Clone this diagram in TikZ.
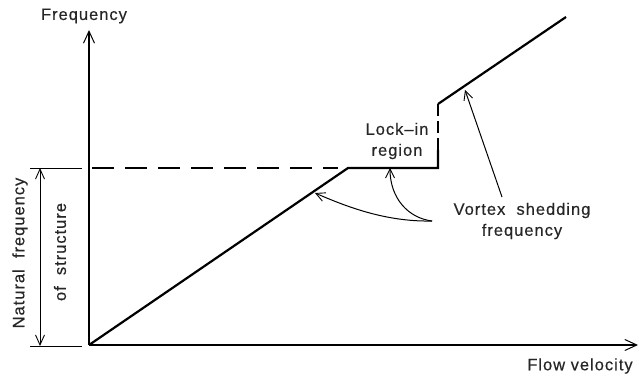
\documentclass[tikz,border=0pt]{standalone}
\usepackage{fontspec}
\setmainfont{Liberation Sans}[LetterSpace=6.0,FakeBold=0.4]
\usetikzlibrary{arrows.meta}
\begin{document}
\begin{tikzpicture}[x=1pt,y=-1pt,
  axis/.style={line width=1.2pt,-{Straight Barb[length=12pt,width=11pt,line width=1pt]}},
  graph/.style={line width=2.2pt,line join=miter,line cap=butt},
  thin/.style={line width=0.9pt},
  pointer/.style={line width=1pt,-{Straight Barb[length=9pt,width=9pt,line width=0.9pt]}},
  lbl/.style={font=\fontsize{16.5}{21}\selectfont,inner sep=0pt,align=center,text=black!85}]
\useasboundingbox (0,0) rectangle (639,379);
% points
\coordinate (O) at (89,345);
\coordinate (ytop) at (89,30);
\coordinate (xend) at (638,345);
\coordinate (A) at (348,168);
\coordinate (B) at (438,168);
\coordinate (B1) at (438,150);
\coordinate (C) at (438,104);
\coordinate (D) at (566,17);
\coordinate (t1a) at (30,168);
\coordinate (t1b) at (82,168);
\coordinate (t2a) at (30,346);
\coordinate (t2b) at (82,346);
\coordinate (da) at (40,168);
\coordinate (db) at (40,346);
\coordinate (dsh1) at (92,168);
\coordinate (dsh2) at (338,168);
\coordinate (ps) at (432,221);
\coordinate (p1) at (315,193);
\coordinate (p2) at (390,168);
\coordinate (q1) at (502,197);
\coordinate (q2) at (465,90);
% axes
\draw[axis] (O) -- (ytop);
\draw[axis] (O) -- (xend);
% labels
\node[lbl] (freq) at (84,16) {Frequency};
\node[lbl] (flow) at (580,366) {Flow velocity};
\node[lbl,rotate=90] (nat) at (20,253) {Natural\ \ frequency};
\node[lbl,rotate=90] (ofs) at (60,252) {of\ \ structure};
\node[lbl] (lock) at (397,141) {Lock--in\\region};
\node[lbl] (vortex) at (522,221) {Vortex\ \ shedding\\frequency};
% natural frequency range
\draw[thin] (t1a) -- (t1b);
\draw[thin] (t2a) -- (t2b);
\draw[thin,{Straight Barb[length=10pt,width=9pt,line width=0.9pt]}-{Straight Barb[length=10pt,width=9pt,line width=0.9pt]}] (da) -- (db);
\draw[line width=1.2pt,dash pattern=on 22pt off 11pt] (dsh1) -- (dsh2);
% graph
\draw[graph] (O) -- (A) -- (B) -- (B1);
\draw[graph,line width=2pt,dash pattern=on 12pt off 5pt] (B1) -- (C);
\draw[graph] (C) -- (D);
% pointers
\draw[pointer] (ps) .. controls (385,222) and (345,206) .. (p1);
\draw[pointer] (ps) .. controls (408,218) and (390,198) .. (p2);
\draw[pointer] (q1) -- (q2);
\end{tikzpicture}
\end{document}
